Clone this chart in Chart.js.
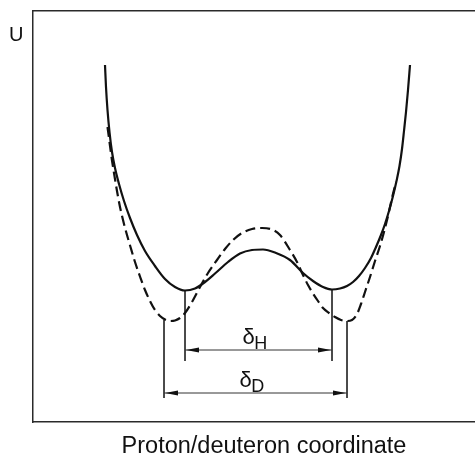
<!DOCTYPE html>
<html>
<head>
<meta charset="utf-8">
<script src="https://cdn.jsdelivr.net/npm/chart.js@4/dist/chart.umd.min.js"></script>
<style>
  html, body { margin: 0; padding: 0; background: #fff; }
  #wrap { width: 475px; height: 456px; }
</style>
</head>
<body>
<div id="wrap"><canvas id="c" width="475" height="456"></canvas></div>
<script>
// Double-well potential along the proton/deuteron coordinate (arbitrary units)
const protonX = [72, 73, 74.5, 76.5, 79, 82, 86, 91, 97, 104, 112, 122, 132, 142, 152, 162, 172, 182, 195, 207, 219, 230, 243, 257, 270, 280, 290, 299, 307, 314, 320, 326, 332, 338, 343, 348, 352, 356, 360, 363.5, 366.5, 369, 371, 373, 375, 377];
const protonU = [357, 335, 312, 290, 270, 254, 238, 221, 204, 187, 171, 156, 143, 135, 131.5, 133.5, 140, 148.5, 160, 168.5, 172, 172.5, 169, 162, 149, 141, 135, 132.5, 133.5, 136, 140, 146, 154, 164, 175, 187, 198, 211, 226, 241, 256, 273, 291, 310, 332, 357];

const deuteronX = [74.5, 76.5, 78.5, 81, 84, 87, 90.5, 94, 97.5, 102, 107, 112, 117, 122, 127, 132, 137, 142, 147, 152, 159, 167, 175, 184, 192, 200, 209, 219, 229, 239, 247, 257, 264, 270, 275, 280, 285, 290, 296, 302, 308, 314, 319, 324, 328, 332, 337, 342, 347, 351, 355, 359, 363];
const deuteronU = [295, 280, 265, 249, 231, 215, 200, 187, 175, 160, 145.5, 132, 121, 112, 106, 102.5, 101, 101.5, 104, 109, 120, 135, 149, 162, 173, 182, 189, 193, 194, 192.5, 187, 172, 160, 147, 137, 128.5, 121, 114, 109, 105, 102, 101, 102, 108, 118, 130, 145, 161, 176, 190, 206, 224, 240];

// Well-minimum positions and their depths, for the separation guides
const minimaH = [152, 299];
const minimaHU = [131.5, 132.5];
const minimaD = [131, 314];
const minimaDU = [102, 101];

const ink = '#111';
const guide = '#333';

function seg(xs, ys) { return xs.map((v, i) => ({ x: v, y: ys[i] })); }

// separation guides: two drop lines plus a horizontal dimension line
const dims = [
  { ends: minimaH, tops: minimaHU, level: 72, foot: 61, sub: 'H' },
  { ends: minimaD, tops: minimaDU, level: 29, foot: 24, sub: 'D' }
];

const guideSets = [];
dims.forEach(d => {
  guideSets.push({ data: [{ x: d.ends[0], y: d.tops[0] }, { x: d.ends[0], y: d.foot }] });
  guideSets.push({ data: [{ x: d.ends[1], y: d.tops[1] }, { x: d.ends[1], y: d.foot }] });
  guideSets.push({ data: [{ x: d.ends[0], y: d.level }, { x: d.ends[1], y: d.level }] });
});

const annotate = {
  id: 'annotate',
  afterDatasetsDraw(chart) {
    const { ctx } = chart;
    const xs = chart.scales.x, ys = chart.scales.y;
    ctx.save();
    ctx.fillStyle = ink;
    dims.forEach(d => {
      const yp = ys.getPixelForValue(d.level);
      const x0 = xs.getPixelForValue(d.ends[0]);
      const x1 = xs.getPixelForValue(d.ends[1]);
      [[x0, 1], [x1, -1]].forEach(([tip, dir]) => {
        ctx.beginPath();
        ctx.moveTo(tip + dir * 1, yp);
        ctx.lineTo(tip + dir * 14, yp - 2.5);
        ctx.lineTo(tip + dir * 14, yp + 2.5);
        ctx.closePath();
        ctx.fill();
      });
      const left = (x0 + x1) / 2 - 16;
      ctx.textBaseline = 'alphabetic';
      ctx.textAlign = 'left';
      ctx.font = '22px "Liberation Sans", Arial, sans-serif';
      ctx.fillText('δ', left, yp - 6.5);
      const w = ctx.measureText('δ').width;
      ctx.font = '18px "Liberation Sans", Arial, sans-serif';
      ctx.fillText(d.sub, left + w - 0.5, yp - 1.5);
    });
    ctx.restore();
  },
  afterDraw(chart) {
    const { ctx } = chart;
    ctx.save();
    ctx.fillStyle = ink;
    ctx.textBaseline = 'alphabetic';
    ctx.font = '20px "Liberation Sans", Arial, sans-serif';
    ctx.textAlign = 'left';
    ctx.fillText('U', 9, 41);
    ctx.font = '23.5px "Liberation Sans", Arial, sans-serif';
    ctx.textAlign = 'center';
    ctx.fillText('Proton/deuteron coordinate', 264, 453);
    ctx.restore();
  }
};

const hiddenAxis = (pos, axis, min, max) => ({
  type: 'linear', position: pos, axis: axis, min: min, max: max,
  ticks: { display: false },
  grid: { display: false, drawTicks: false },
  border: { display: true, color: '#2a2a2a', width: 1.5 }
});

new Chart(document.getElementById('c'), {
  type: 'scatter',
  data: {
    datasets: [
      {
        label: 'H',
        data: seg(protonX, protonU),
        showLine: true, borderColor: ink, borderWidth: 2.2,
        pointRadius: 0, cubicInterpolationMode: 'monotone'
      },
      {
        label: 'D',
        data: seg(deuteronX, deuteronU),
        showLine: true, borderColor: ink, borderWidth: 2.2, borderDash: [10, 5],
        pointRadius: 0, cubicInterpolationMode: 'monotone'
      },
      ...guideSets.map(g => ({
        data: g.data, showLine: true, borderColor: guide, borderWidth: 1,
        pointRadius: 0
      }))
    ]
  },
  options: {
    responsive: false,
    animation: false,
    layout: { padding: { left: 33, right: 0, top: 11, bottom: 34 } },
    plugins: { legend: { display: false }, tooltip: { enabled: false } },
    scales: {
      x: hiddenAxis('bottom', 'x', 0, 442),
      xTop: hiddenAxis('top', 'x', 0, 442),
      y: hiddenAxis('left', 'y', 0, 411)
    }
  },
  plugins: [annotate]
});
</script>
</body>
</html>
